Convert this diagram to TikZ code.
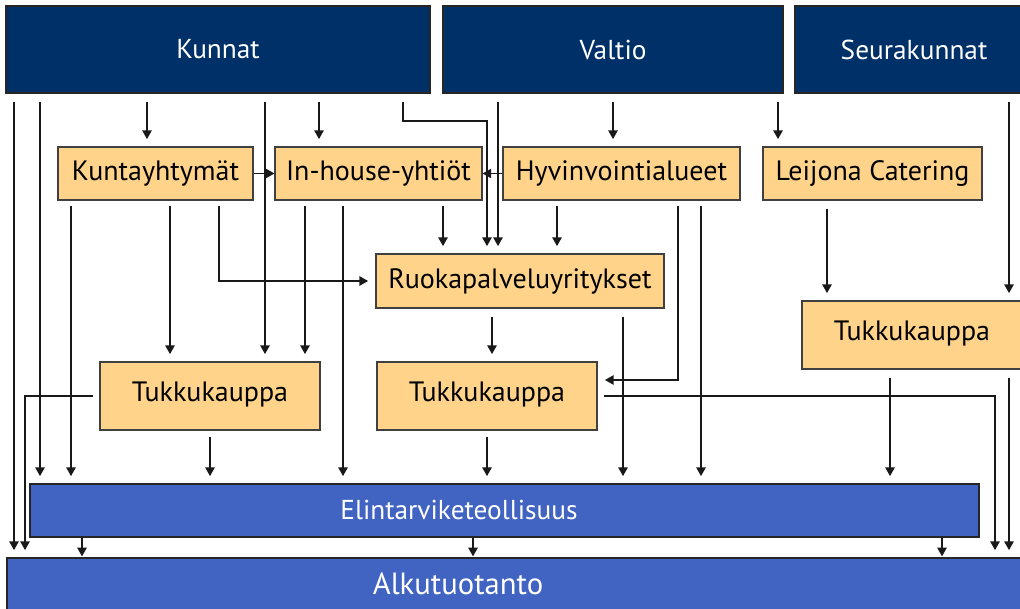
\documentclass[tikz,border=0pt]{standalone}
\usepackage{fontspec}
\setmainfont{PT Sans}
\usetikzlibrary{arrows.meta,fit}
\definecolor{navy}{RGB}{0,48,104}
\definecolor{peach}{RGB}{255,212,138}
\definecolor{mblue}{RGB}{65,99,193}
\begin{document}
\begin{tikzpicture}[x=0.75pt,y=-0.75pt,
  topbox/.style={fill=navy, draw=black!85, line width=0.8pt, inner sep=0pt},
  obox/.style={fill=peach, draw=black!75, line width=0.8pt, inner sep=0pt},
  bbox/.style={fill=mblue, draw=black!85, line width=0.8pt, inner sep=0pt},
  ttext/.style={text=white, inner sep=0pt, font=\fontsize{20.5}{24}\selectfont},
  otext/.style={inner sep=0pt, font=\fontsize{21}{25}\selectfont},
  btext/.style={text=white, inner sep=0pt, font=\fontsize{20.5}{24}\selectfont},
  ln/.style={line width=0.9pt, draw=black!90},
  arr/.style={ln, -{Triangle[width=7pt,length=6.5pt]}},
  gs/.style={shorten <=6pt},
  ge/.style={shorten >=5.5pt}]
\useasboundingbox (0,0) rectangle (1020,609);

% boxes
\node[topbox, fit={(6,6)(430,93)}] (kunnat) {};
\node[ttext] (kunnatt) at (kunnat.center) {Kunnat};
\node[topbox, fit={(443,6)(783,93)}] (valtio) {};
\node[ttext] (valtiot) at (valtio.center) {Valtio};
\node[topbox, fit={(795,6)(1033,93)}] (seura) {};
\node[ttext] (seurat) at (seura.center) {Seurakunnat};

\node[obox, fit={(58,147)(253,200)}] (kty) {};
\node[otext] (ktyt) at (kty.center) {Kuntayhtymät};
\node[obox, fit={(275,147)(482,200)}] (inh) {};
\node[otext] (inht) at (inh.center) {In-house-yhtiöt};
\node[obox, fit={(503,147)(740,200)}] (hyv) {};
\node[otext] (hyvt) at (hyv.center) {Hyvinvointialueet};
\node[obox, fit={(763,147)(982,200)}] (leij) {};
\node[otext] (leijt) at (leij.center) {Leijona Catering};
\node[obox, fit={(376,254)(664,308)}] (ruoka) {};
\node[otext] (ruokat) at (ruoka.center) {Ruokapalveluyritykset};
\node[obox, fit={(100,362)(320,430)}] (tk1) {};
\node[otext] (tk1t) at ([yshift=1.5pt]tk1.center) {Tukkukauppa};
\node[obox, fit={(377,362)(597,430)}] (tk2) {};
\node[otext] (tk2t) at ([yshift=1.5pt]tk2.center) {Tukkukauppa};
\node[obox, fit={(802,301)(1022,369)}] (tk3) {};
\node[otext] (tk3t) at ([yshift=1.5pt]tk3.center) {Tukkukauppa};

\node[bbox, fit={(30,484)(979,537)}] (elin) {};
\node[btext] (elint) at (459,510) {Elintarviketeollisuus};
\node[bbox, fit={(7,558)(1040,620)}] (alku) {};
\node[btext, font=\fontsize{23}{27}\selectfont] (alkut) at (458,584) {Alkutuotanto};

% from Kunnat
\draw[arr,gs,ge] (kunnat.south -| 14,0) -- (alku.north -| 14,0);
\draw[arr,gs,ge] (kunnat.south -| 40,0) -- (elin.north -| 40,0);
\draw[arr,gs,ge] (kunnat.south -| 147,0) -- (kty.north -| 147,0);
\draw[arr,gs,ge] (kunnat.south -| 265,0) -- (tk1.north -| 265,0);
\draw[arr,gs,ge] (kunnat.south -| 319,0) -- (inh.north -| 319,0);
\draw[arr,gs,ge] (kunnat.south -| 403,0) -- (403,121) -- (487,121) -- (ruoka.north -| 487,0);
% from Valtio
\draw[arr,gs,ge] (valtio.south -| 498,0) -- (ruoka.north -| 498,0);
\draw[arr,gs,ge] (valtio.south -| 613,0) -- (hyv.north -| 613,0);
\draw[arr,gs,ge] (valtio.south -| 778,0) -- (leij.north -| 778,0);
% from Seurakunnat
\draw[arr,gs,ge] (seura.south -| 1009,0) -- (tk3.north -| 1009,0);

% horizontal links
\draw[arr] (kty.east) -- (inh.west);
\draw[arr] (hyv.west) -- (inh.east);

% from Kuntayhtymät
\draw[arr,shorten <=4pt,ge] (kty.south -| 71,0) -- (elin.north -| 71,0);
\draw[arr,shorten <=4pt,ge] (kty.south -| 170,0) -- (tk1.north -| 170,0);
\draw[arr,shorten <=4pt,ge] (kty.south -| 219,0) -- (219,281) -- (ruoka.west);
% from In-house
\draw[arr,shorten <=4pt,ge] (inh.south -| 305,0) -- (tk1.north -| 305,0);
\draw[arr,shorten <=4pt,ge] (inh.south -| 343,0) -- (elin.north -| 343,0);
\draw[arr,shorten <=4pt,ge] (inh.south -| 443,0) -- (ruoka.north -| 443,0);
% from Hyvinvointialueet
\draw[arr,shorten <=4pt,ge] (hyv.south -| 557,0) -- (ruoka.north -| 557,0);
\draw[arr,shorten <=4pt,ge] (hyv.south -| 678,0) -- (678,380) -- (tk2.east |- 0,380);
\draw[arr,shorten <=4pt,ge] (hyv.south -| 701,0) -- (elin.north -| 701,0);
% from Ruokapalveluyritykset
\draw[arr,gs,ge] (ruoka.south -| 492,0) -- (tk2.north -| 492,0);
\draw[arr,gs,ge] (ruoka.south -| 623,0) -- (elin.north -| 623,0);
% from Leijona Catering
\draw[arr,gs,ge] (leij.south -| 827,0) -- (tk3.north -| 827,0);
% from right Tukkukauppa
\draw[arr,gs,ge] (tk3.south -| 890,0) -- (elin.north -| 890,0);
\draw[arr,gs,ge] (tk3.south -| 1009,0) -- (alku.north -| 1009,0);
% from left Tukkukauppa
\draw[arr,shorten <=5pt,ge] (tk1.west |- 0,396) -- (25,396) -- (alku.north -| 25,0);
\draw[arr,shorten <=5pt,ge] (tk1.south -| 210,0) -- (elin.north -| 210,0);
% from middle Tukkukauppa
\draw[arr,shorten <=5pt,ge] (tk2.south -| 487,0) -- (elin.north -| 487,0);
\draw[arr,shorten <=5pt,ge] (tk2.east |- 0,396) -- (995,396) -- (alku.north -| 995,0);
% from Elintarviketeollisuus
\draw[arr,shorten >=0.8pt] (elin.south -| 82,0) -- (alku.north -| 82,0);
\draw[arr,shorten >=0.8pt] (elin.south -| 473,0) -- (alku.north -| 473,0);
\draw[arr,shorten >=0.8pt] (elin.south -| 942,0) -- (alku.north -| 942,0);
\end{tikzpicture}
\end{document}
